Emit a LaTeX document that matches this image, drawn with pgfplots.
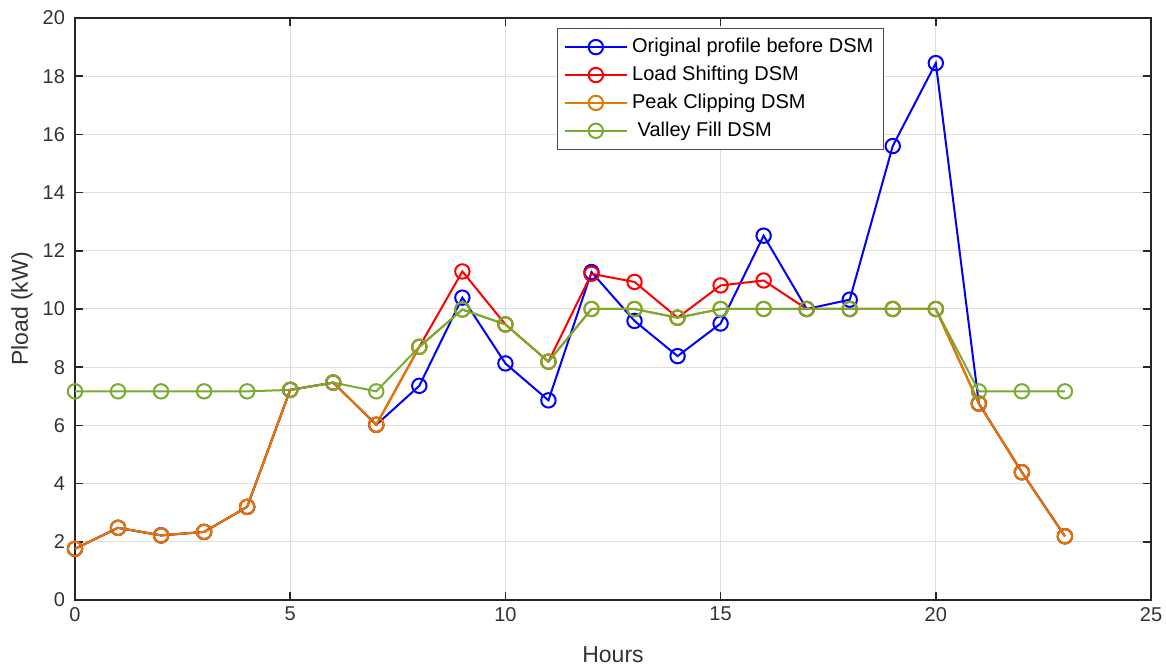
\documentclass[border=0pt]{standalone}
\usepackage{fontspec}
\setmainfont{Liberation Sans}
\usepackage{pgfplots}
\pgfplotsset{compat=1.18}
\definecolor{origblue}{RGB}{0,0,255}
\definecolor{shiftred}{RGB}{255,0,0}
\definecolor{clipor}{RGB}{222,122,0}
\definecolor{fillgreen}{RGB}{119,172,48}
\begin{document}
\begin{tikzpicture}
\begin{axis}[
    name=ax,
    scale only axis,
    width=538pt, height=291pt,
    xmin=0, xmax=25, ymin=0, ymax=20,
    xtick={0,5,...,25}, ytick={0,2,...,20},
    xlabel={Hours}, ylabel={Pload (kW)},
    every axis x label/.style={at={(axis description cs:0.5,-0.0945)}, anchor=center},
    every axis y label/.style={at={(axis description cs:-0.0493,0.5)}, rotate=90, anchor=center},
    grid=major,
    major grid style={gray!25, line width=0.5pt},
    axis line style={black!85, line width=0.8pt},
    tick align=inside,
    major tick length=4pt,
    tick style={black!85, line width=0.8pt},
    ticklabel style={font=\fontsize{10}{11}\selectfont, text=black!80},
    yticklabel style={xshift=-1.5pt},
    label style={font=\fontsize{11.5}{13}\selectfont, text=black!80},
    /pgf/number format/assume math mode=true,
    legend style={at={(rel axis cs:0.448,0.983)}, anchor=north west,
        font=\fontsize{10}{12}\selectfont, draw=black!70, line width=0.5pt,
        row sep=1.2pt, inner xsep=3pt, inner ysep=3pt},
    legend cell align=left,
    legend image code/.code={\draw[mark repeat=2, mark phase=2]
        plot coordinates {(0cm,0cm) (0.55cm,0cm) (1.1cm,0cm)};},
    every axis plot/.append style={line width=1pt, mark=o, mark size=3.6pt},
]
\addplot[color=origblue] coordinates {
(0,1.76) (1,2.48) (2,2.22) (3,2.34) (4,3.2) (5,7.22) (6,7.47) (7,6.02)
(8,7.36) (9,10.39) (10,8.13) (11,6.86) (12,11.27) (13,9.59) (14,8.38) (15,9.5)
(16,12.52) (17,10.0) (18,10.32) (19,15.6) (20,18.45) (21,6.75) (22,4.39) (23,2.19)};
\addlegendentry{Original profile before DSM}
\addplot[color=shiftred] coordinates {
(0,1.76) (1,2.48) (2,2.22) (3,2.34) (4,3.2) (5,7.22) (6,7.47) (7,6.02)
(8,8.7) (9,11.29) (10,9.47) (11,8.19) (12,11.21) (13,10.93) (14,9.7) (15,10.81)
(16,10.98) (17,10.0) (18,10.0) (19,10.0) (20,10.0) (21,6.75) (22,4.39) (23,2.19)};
\addlegendentry{Load Shifting DSM}
\addplot[color=clipor] coordinates {
(0,1.76) (1,2.48) (2,2.22) (3,2.34) (4,3.2) (5,7.22) (6,7.47) (7,6.02)
(8,8.7) (9,9.98) (10,9.47) (11,8.19) (12,10.0) (13,10.0) (14,9.7) (15,10.0)
(16,10.0) (17,10.0) (18,10.0) (19,10.0) (20,10.0) (21,6.75) (22,4.39) (23,2.19)};
\addlegendentry{Peak Clipping DSM}
\addplot[color=fillgreen] coordinates {
(0,7.17) (1,7.17) (2,7.17) (3,7.17) (4,7.17) (5,7.22) (6,7.47) (7,7.17)
(8,8.7) (9,9.98) (10,9.47) (11,8.19) (12,10.0) (13,10.0) (14,9.7) (15,10.0)
(16,10.0) (17,10.0) (18,10.0) (19,10.0) (20,10.0) (21,7.17) (22,7.17) (23,7.17)};
\addlegendentry{\ Valley Fill DSM}
\end{axis}
% page frame as in the reference
\pgfresetboundingbox
\path ([shift={(-37.5pt,-33.5pt)}]ax.south west) rectangle ([shift={(7.5pt,9pt)}]ax.north east);
\end{tikzpicture}
\end{document}
